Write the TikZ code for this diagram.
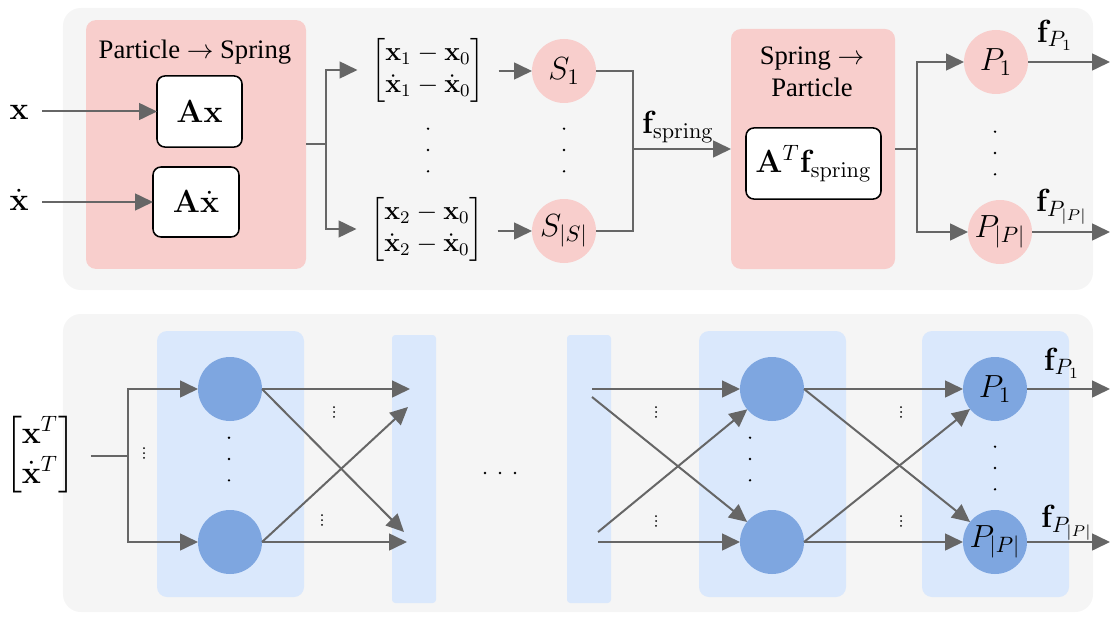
\documentclass[tikz,border=0pt,12pt]{standalone}
\usepackage{amsmath}
\usepackage[no-math]{fontspec}
\setmainfont{Liberation Serif}
\usetikzlibrary{arrows.meta}

\definecolor{panelgray}{HTML}{F5F5F5}
\definecolor{pinkfill}{HTML}{F8CECC}
\definecolor{bluepanelfill}{HTML}{DAE8FC}
\definecolor{bluecirc}{HTML}{7EA6E0}
\definecolor{arrgray}{HTML}{666666}

\tikzset{
  panel/.style={fill=panelgray, rounded corners=8pt, inner sep=0pt, outer sep=0pt},
  pinkpanel/.style={fill=pinkfill, rounded corners=4.5pt, inner sep=0pt, outer sep=0pt},
  bluepanel/.style={fill=bluepanelfill, rounded corners=4.5pt, inner sep=0pt, outer sep=0pt},
  bluebar/.style={fill=bluepanelfill, rounded corners=1.5pt, inner sep=0pt, outer sep=0pt,
    minimum width=19.8pt, minimum height=120.6pt},
  opbox/.style={draw=black, line width=0.7pt, fill=white, rounded corners=3.6pt,
    inner sep=0pt, outer sep=0pt, font=\large},
  pcirc/.style={circle, fill=pinkfill, minimum size=28.8pt, inner sep=0pt, outer sep=0pt,
    font=\large},
  bcirc/.style={circle, fill=bluecirc, minimum size=28.8pt, inner sep=0pt, outer sep=0pt,
    font=\large},
  vecnode/.style={inner sep=6pt},
  flabel/.style={inner sep=1pt, font=\large},
  ln/.style={draw=arrgray, line width=0.9pt},
  arr/.style={ln, -{Triangle[length=8pt,width=7.5pt]}},
  bigdots/.pic={\fill (0,9.6pt) circle (0.6pt); \fill (0,0) circle (0.6pt);
    \fill (0,-9.6pt) circle (0.6pt);},
  smalldots/.pic={\fill (0,2.2pt) circle (0.45pt); \fill (0,0) circle (0.45pt);
    \fill (0,-2.2pt) circle (0.45pt);},
  rowdots/.pic={\fill (-6.75pt,0) circle (0.6pt); \fill (0,0) circle (0.6pt);
    \fill (6.75pt,0) circle (0.6pt);}
}

\begin{document}
\begin{tikzpicture}[x=0.45pt,y=-0.45pt]
\useasboundingbox (0,0) rectangle (1110,617);

% ---------------- top: spring-based force model ----------------
\node[panel, minimum width=463.5pt, minimum height=126.9pt] (toppanel) at (578,149) {};

% particle -> spring stage
\node[pinkpanel, minimum width=99pt, minimum height=112pt] (p2s) at (196,144.5) {};
\node (p2stitle) at (195,52) {Particle $\rightarrow$ Spring};
\node[opbox, minimum width=38.25pt, minimum height=32pt] (Ax) at (199.5,111.5) {$\mathbf{Ax}$};
\node[opbox, minimum width=38.7pt, minimum height=31.5pt] (Axd) at (196,202) {$\mathbf{A}\dot{\mathbf{x}}$};

\node[font=\large, inner sep=2pt] (xin) at (19,112) {$\mathbf{x}$};
\node[font=\large, inner sep=2pt] (xdin) at (19,200) {$\dot{\mathbf{x}}$};
\draw[arr, shorten <=4pt] (Ax.west -| xin.east) -- (Ax.west);
\draw[arr, shorten <=4pt] (Axd.west -| xdin.east) -- (Axd.west);

% spring displacement vectors
\coordinate (jn1) at (326,144.5);
\node[vecnode] (m1) at (428,70)
  {$\begin{bmatrix}\mathbf{x}_1-\mathbf{x}_0\\ \dot{\mathbf{x}}_1-\dot{\mathbf{x}}_0\end{bmatrix}$};
\node[vecnode] (m2) at (427,229)
  {$\begin{bmatrix}\mathbf{x}_2-\mathbf{x}_0\\ \dot{\mathbf{x}}_2-\dot{\mathbf{x}}_0\end{bmatrix}$};
\draw[ln] (p2s.east) -- (jn1);
\draw[arr] (jn1) |- (m1.west);
\draw[arr] (jn1) |- (m2.west);
\pic at (428,150) {bigdots};

% springs
\node[pcirc] (S1) at (564,71) {$S_1$};
\node[pcirc] (Ss) at (564,231) {$S_{|S|}$};
\pic at (564,150) {bigdots};
\draw[arr] (m1.east |- S1) -- (S1);
\draw[arr] (m2.east |- Ss) -- (Ss);

% spring -> particle stage
\coordinate (jn2) at (633,149);
\node[pinkpanel, minimum width=73.8pt, minimum height=108pt] (s2p) at (813,149) {};
\node[align=center] (s2ptitle) at (812,72) {Spring $\rightarrow$\\Particle};
\node[opbox, minimum width=60.75pt, minimum height=32pt] (ATf) at (813.5,163.5)
  {$\mathbf{A}^T\mathbf{f}_{\mathrm{spring}}$};
\draw[ln] (S1.east) -| (jn2) |- (Ss.east);
\draw[arr] (jn2) -- (jn2 -| s2p.west);
\node[flabel] (fspring) at (678,127) {$\mathbf{f}_{\mathrm{spring}}$};

% particles
\coordinate (jn3) at (917,149);
\node[pcirc] (P1) at (996,62) {$P_1$};
\node[pcirc] (Pp) at (1000,232) {$P_{|P|}$};
\pic at (995,153) {bigdots};
\draw[ln] (s2p.east) -- (jn3);
\draw[arr] (jn3) |- (P1.west);
\draw[arr] (jn3) |- (Pp.west);
\coordinate (o1) at (1110,62);
\coordinate (o2) at (1110,232);
\draw[arr] (P1) -- (o1);
\draw[arr] (Pp) -- (o2);
\node[flabel] (fP1) at (1055,35) {$\mathbf{f}_{P_1}$};
\node[flabel] (fPp) at (1062,207) {$\mathbf{f}_{P_{|P|}}$};

% ---------------- bottom: neural network ----------------
\node[panel, minimum width=463.5pt, minimum height=134.1pt] (botpanel) at (578,463) {};

\node[bluepanel, minimum width=66.15pt, minimum height=119.7pt] (L1) at (230.5,464) {};
\node[bluepanel, minimum width=66.15pt, minimum height=119.7pt] (L2) at (772.5,464) {};
\node[bluepanel, minimum width=66.15pt, minimum height=119.7pt] (L3) at (995.5,464) {};
\node[bluebar] (bar1) at (414,469) {};
\node[bluebar] (bar2) at (589,469) {};

% input
\node[vecnode, font=\large, inner sep=4pt] (inp) at (40,455)
  {$\begin{bmatrix}\mathbf{x}^T\\ \dot{\mathbf{x}}^T\end{bmatrix}$};
\coordinate (jn4) at (128,456);

% first layer
\node[bcirc] (c1a) at (230,389) {};
\node[bcirc] (c1b) at (230,542) {};
\pic at (229,459) {bigdots};
\draw[ln, shorten <=3pt] (inp.east |- jn4) -- (jn4);
\draw[arr] (jn4) |- (c1a.west);
\draw[arr] (jn4) |- (c1b.west);
\pic at (144,453) {smalldots};

\coordinate (e1a) at (410,389);
\coordinate (e1b) at (404,532);
\coordinate (e1c) at (408,407);
\coordinate (e1d) at (407,542);
\draw[arr] (c1a.east) -- (e1a);
\draw[arr] (c1a.east) -- (e1b);
\draw[arr] (c1b.east) -- (e1c);
\draw[arr] (c1b.east) -- (e1d);
\pic at (334,412) {smalldots};
\pic at (322,520) {smalldots};

\pic at (500,473) {rowdots};

% last hidden layer
\node[bcirc] (c2a) at (772,389) {};
\node[bcirc] (c2b) at (772,542) {};
\pic at (750,459) {bigdots};
\coordinate (s2a) at (592,389);
\coordinate (s2b) at (592,397);
\coordinate (s2c) at (598,532);
\coordinate (s2d) at (598,542);
\draw[arr] (s2a) -- (c2a);
\draw[arr] (s2b) -- (c2b);
\draw[arr] (s2c) -- (c2a);
\draw[arr] (s2d) -- (c2b);
\pic at (656,412) {smalldots};
\pic at (656,521) {smalldots};

% output layer
\node[bcirc] (P1b) at (995,389) {$P_1$};
\node[bcirc] (P2b) at (995,542) {$P_{|P|}$};
\pic at (995,468) {bigdots};
\draw[arr] (c2a.east) -- (P1b);
\draw[arr] (c2a.east) -- (P2b);
\draw[arr] (c2b.east) -- (P1b);
\draw[arr] (c2b.east) -- (P2b);
\pic at (901,412) {smalldots};
\pic at (901,521) {smalldots};

\coordinate (o3) at (1110,389);
\coordinate (o4) at (1110,542);
\draw[arr] (P1b) -- (o3);
\draw[arr] (P2b) -- (o4);
\node[flabel] (fP1b) at (1062,363) {$\mathbf{f}_{P_1}$};
\node[flabel] (fPpb) at (1067,523) {$\mathbf{f}_{P_{|P|}}$};
\end{tikzpicture}
\end{document}
